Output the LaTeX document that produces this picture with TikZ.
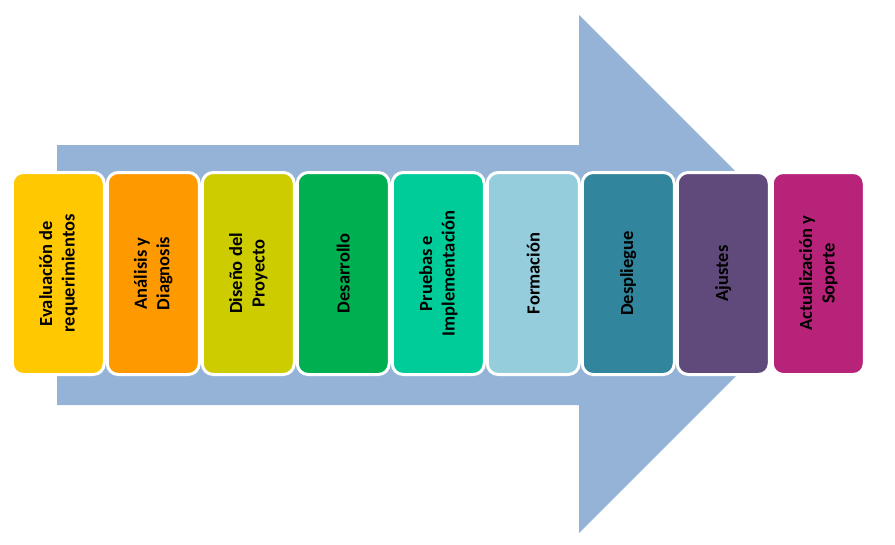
\documentclass[tikz,border=0pt]{standalone}
\usepackage{fontspec}
\setmainfont{Carlito}
\definecolor{arrowblue}{HTML}{95B3D7}
\definecolor{cA}{HTML}{FFC800}
\definecolor{cB}{HTML}{FF9900}
\definecolor{cC}{HTML}{CCCC00}
\definecolor{cD}{HTML}{00B050}
\definecolor{cE}{HTML}{00CC99}
\definecolor{cF}{HTML}{96CDDD}
\definecolor{cG}{HTML}{31859C}
\definecolor{cH}{HTML}{604A7B}
\definecolor{cI}{HTML}{B8237A}
\tikzset{
  stepbox/.style={draw=white, line width=3pt, rounded corners=11pt, rotate=90,
    minimum width=202pt, minimum height=92pt, inner sep=0pt, align=center,
    text=black, font=\bfseries\fontsize{18.5}{22.5}\selectfont},
}
\begin{document}
\begin{tikzpicture}[x=1pt,y=-1pt]
\useasboundingbox (0,0) rectangle (895,544);
\fill[arrowblue] (57,145) -- (579,145) -- (579,15) -- (838,274) -- (579,533) -- (579,405) -- (57,405) -- cycle;
\node[stepbox, fill=cA] (s1) at (58.25,273.5) {Evaluación de\\requerimientos};
\node[stepbox, fill=cB] (s2) at (153.25,273.5) {Análisis y\\Diagnosis};
\node[stepbox, fill=cC] (s3) at (248.25,273.5) {Diseño del\\Proyecto};
\node[stepbox, fill=cD] (s4) at (343.25,273.5) {Desarrollo};
\node[stepbox, fill=cE] (s5) at (438.25,273.5) {Pruebas e\\Implementación};
\node[stepbox, fill=cF] (s6) at (533.25,273.5) {Formación};
\node[stepbox, fill=cG] (s7) at (628.25,273.5) {Despliegue};
\node[stepbox, fill=cH] (s8) at (723.25,273.5) {Ajustes};
\node[stepbox, fill=cI] (s9) at (818.25,273.5) {Actualización y\\Soporte};
\end{tikzpicture}
\end{document}
